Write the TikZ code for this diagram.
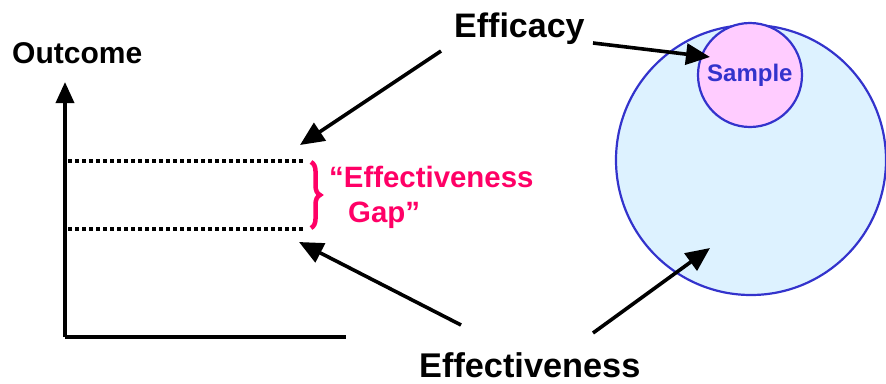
\documentclass[tikz,border=0pt]{standalone}
\usepackage{fontspec}
\setmainfont{Liberation Sans}
\usetikzlibrary{arrows.meta,decorations.pathreplacing}
\definecolor{circblue}{RGB}{51,51,204}
\definecolor{circfill}{RGB}{221,242,255}
\definecolor{samplefill}{RGB}{255,204,255}
\definecolor{gappink}{RGB}{255,0,102}
\begin{document}
\begin{tikzpicture}[x=1pt,y=-1pt,
  lbl/.style={inner sep=0pt,anchor=base west,font=\bfseries},
  bigarrow/.style={line width=3.6pt,-{Triangle[length=24pt,width=21pt]}},
  axis/.style={line width=3.6pt},
  dotline/.style={line width=3.5pt,dash pattern=on 3.5pt off 3.5pt},
  circ/.style={circle,draw=circblue,line width=2.2pt,inner sep=0pt}]
\useasboundingbox (0,0) rectangle (886,383);
% circles
\node[circ,fill=circfill,minimum size=270pt] (pop) at (751,160) {};
\node[circ,fill=samplefill,minimum size=104pt] (samp) at (750,75) {};
\node[lbl,text=circblue,font=\bfseries\fontsize{24}{28}\selectfont] (samplbl) at (707,81) {Sample};
% texts
\node[lbl,font=\bfseries\fontsize{30}{34}\selectfont] (outcome) at (12,63) {Outcome};
\node[lbl,font=\bfseries\fontsize{34}{38}\selectfont] (efficacy) at (454,37) {Efficacy};
\node[lbl,font=\bfseries\fontsize{34.3}{38}\selectfont] (effect) at (419,377) {Effectiveness};
\node[lbl,text=gappink,font=\bfseries\fontsize{29.4}{35}\selectfont] (gap1) at (329,187) {“Effectiveness};
\node[lbl,text=gappink,font=\bfseries\fontsize{29.4}{35}\selectfont] (gap2) at (348,222) {Gap”};
% axes
\coordinate (origin) at (65,337);
\coordinate (ytop) at (65,82);
\coordinate (xend) at (346,337);
\draw[axis,-{Triangle[length=21pt,width=18pt]}] (origin) -- (ytop);
\draw[axis] (origin) -- (xend);
% dotted lines
\coordinate (d1a) at (68,161); \coordinate (d1b) at (303,161);
\coordinate (d2a) at (68,229); \coordinate (d2b) at (303,229);
\draw[dotline] (d1a) -- (d1b);
\draw[dotline] (d2a) -- (d2b);
% brace
\coordinate (ba) at (311,162); \coordinate (bb) at (311,228);
\draw[gappink,line width=4.5pt,decorate,decoration={brace,amplitude=9pt}] (ba) -- (bb);
% arrows
\coordinate (t1) at (300,145);
\coordinate (t2) at (299,242);
\coordinate (t3) at (710,57);
\coordinate (t4) at (710,248);
\coordinate (s1) at (441,51);
\coordinate (s2) at (461,325);
\coordinate (s3) at (593,43);
\coordinate (s4) at (593,333);
\draw[bigarrow] (s1) -- (t1);
\draw[bigarrow] (s2) -- (t2);
\draw[bigarrow] (s3) -- (t3);
\draw[bigarrow] (s4) -- (t4);
\end{tikzpicture}
\end{document}
